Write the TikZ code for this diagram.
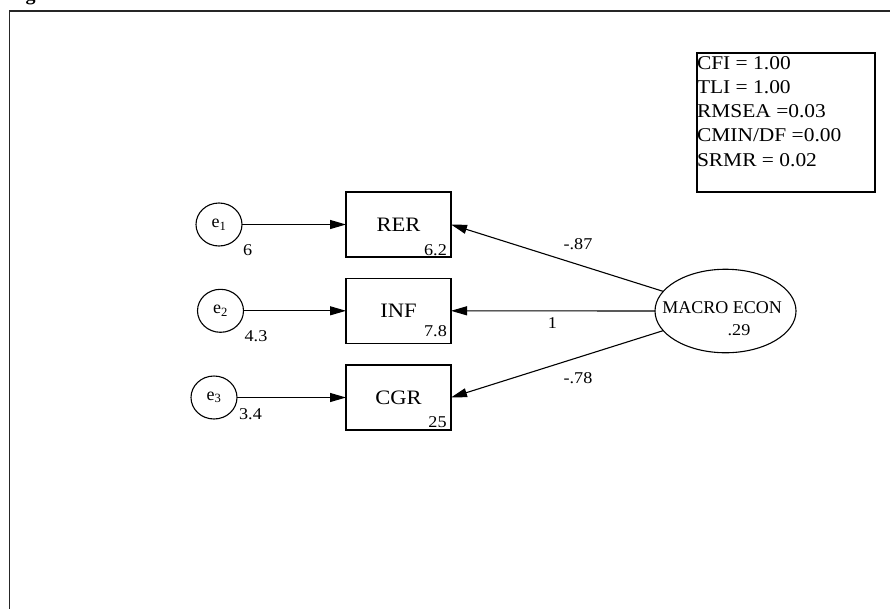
\documentclass[tikz,border=0pt]{standalone}
\usepackage{fontspec}
\setmainfont{Liberation Serif}
\newfontfamily\widefont{Liberation Serif}[FakeStretch=1.1]
\usetikzlibrary{arrows.meta,shapes.geometric,calc}

\tikzset{
 every node/.style={inner sep=0pt, outer sep=0pt},
 obsbox/.style={draw, line width=1.1pt, minimum width=105pt, minimum height=65pt, font=\widefont\fontsize{20.5}{24}\selectfont},
 errc/.style={draw, ellipse, line width=1.1pt, minimum width=46pt, minimum height=43pt, font=\fontsize{18}{20}\selectfont},
 latent/.style={draw, ellipse, line width=1.1pt, minimum width=141pt, minimum height=83.5pt},
 num/.style={anchor=base, font=\widefont\fontsize{16.5}{18}\selectfont},
 fitline/.style={anchor=base west, font=\widefont\fontsize{19.5}{22}\selectfont},
 fitframe/.style={draw, line width=1.1pt, minimum width=178pt, minimum height=139pt},
 arr/.style={line width=1.1pt, -{Triangle[length=16pt,width=9pt]}},
 frameline/.style={line width=1.4pt, black!85},
}

\begin{document}
\begin{tikzpicture}[x=1pt,y=-1pt]
\useasboundingbox (0,0) rectangle (890,608);
% outer frame
\coordinate (fa) at (9.3,640);
\coordinate (fb) at (9.3,11);
\coordinate (fc) at (920,11);
\draw[frameline] (fa) -- (fb) -- (fc);
\node[anchor=base west, font=\bfseries\fontsize{20}{22}\selectfont] (cut) at (25.5,0.6) {g};

% fit statistics
\node[fitframe] (fit) at (786,122.5) {};
\node[fitline] (f1) at (697,69.5) {CFI = 1.00};
\node[fitline] (f2) at (697,93.6) {TLI = 1.00};
\node[fitline] (f3) at (697,117.7) {RMSEA =0.03};
\node[fitline] (f4) at (697,141.8) {CMIN/DF =0.00};
\node[fitline] (f5) at (697,166) {SRMR = 0.02};

% observed variables
\node[obsbox] (rer) at (398.5,224.5) {RER};
\node[obsbox] (inf) at (398.5,310.8) {INF};
\node[obsbox] (cgr) at (398.5,397.5) {CGR};

% errors
\node[errc] (e1) at (219,224.5) {e\textsubscript{1}};
\node[errc] (e2) at (220.5,310.8) {e\textsubscript{2}};
\node[errc] (e3) at (214,397.5) {e\textsubscript{3}};

% latent
\node[latent] (mac) at (725.5,311) {};
\node[anchor=base, font=\fontsize{18}{20}\selectfont] (mt) at (722,313.3) {MACRO ECON};
\node[num] (mv) at (739,335) {.29};

% arrows
\draw[arr] (e1.east) -- (rer.west);
\draw[arr] (e2.east) -- (inf.west);
\draw[arr] (e3.east) -- (cgr.west);
\draw[arr] (mac) -- (rer.east);
\draw[arr] (mac.west) -- (inf.east);
\draw[arr] (mac) -- (cgr.east);

% values
\node[num] (v1) at (435.5,255) {6.2};
\node[num] (v2) at (435.5,336.7) {7.8};
\node[num] (v3) at (437.5,427.8) {25};
\node[num] (u1) at (247.7,255) {6};
\node[num] (u2) at (256,341.7) {4.3};
\node[num] (u3) at (250.5,419.3) {3.4};
\node[num] (l1) at (578,249.3) {-.87};
\node[num] (l2) at (552.5,328.3) {1};
\node[num] (l3) at (578,383.3) {-.78};
\end{tikzpicture}
\end{document}
